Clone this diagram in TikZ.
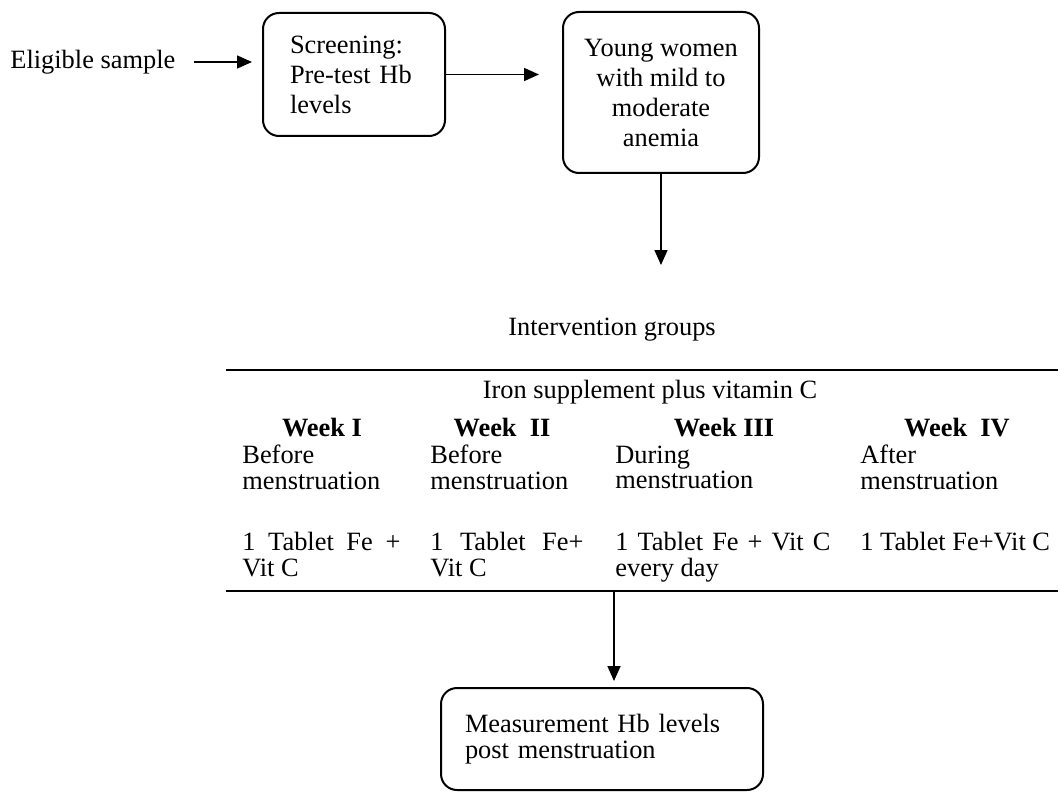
\documentclass[tikz,border=0pt]{standalone}
\usepackage{fontspec}
\setmainfont{Liberation Serif}
\usetikzlibrary{arrows.meta,positioning}

\newcommand{\spreadline}[2]{\makebox[#1][s]{#2}}
\newcommand{\tightlines}{\lineskiplimit=-20pt\relax}

\begin{document}
\begin{tikzpicture}[
x=0.5pt, y=-0.5pt,
every node/.style={font=\fontsize{13.2pt}{15pt}\selectfont\tightlines, inner sep=0pt},
flowbox/.style={draw, line width=1pt, rounded corners=8pt},
cell/.style={anchor=north west, align=left, font=\fontsize{13.2pt}{12.75pt}\selectfont\tightlines},
weekhead/.style={font=\fontsize{13.2pt}{15pt}\selectfont\bfseries},
arr/.style={-{Triangle[length=7.5pt,width=6.5pt]}, line width=0.8pt},
rule/.style={line width=1pt}
]
\useasboundingbox (0,0) rectangle (1061,792);

% top row
\node[anchor=west] (elig) at (10,62) {Eligible sample};
\node[flowbox, minimum width=91pt, minimum height=61.5pt, text width=64pt,
      inner xsep=13.5pt, align=left] (screen) at (354,74.5) {Screening:\\Pre-test Hb\\levels};
\node[flowbox, minimum width=98pt, minimum height=80.5pt, align=center]
      (anemia) at (661,92.5) {Young women\\with mild to\\moderate\\anemia};
\coordinate (split) at (661,265);
\node (groups) at (612,330) {Intervention groups};

% table
\coordinate (tl) at (226,370);
\coordinate (tr) at (1058,370);
\coordinate (bl) at (226,591);
\coordinate (br) at (1058,591);
\draw[rule] (tl) -- (tr);
\draw[rule] (bl) -- (br);
\node (iron) at (650,392) {Iron supplement plus vitamin C};
\foreach \x/\wk [count=\i] in {322/Week I, 502/Week\ \ II, 724/Week III, 957/Week\ \ IV}
	\node[weekhead] (wk\i) at (\x,428) {\wk};
\foreach \x/\t [count=\i] in {242/Before, 430/Before, 615/During, 860/After}
	\node[cell] (when\i) at (\x,445) {\strut\t\\menstruation};
\node[cell] (dose1) at (242,532) {\strut\spreadline{79pt}{1 Tablet Fe +}\\Vit C};
\node[cell] (dose2) at (430,532) {\strut\spreadline{76.5pt}{1 Tablet Fe+}\\Vit C};
\node[cell] (dose3) at (615,532) {\strut\spreadline{107.5pt}{1 Tablet Fe + Vit C}\\every day};
\node[cell] (dose4) at (860,532) {\strut 1 Tablet Fe+Vit C};

% result
\coordinate (drop) at (614,591);
\node[flowbox, minimum width=161pt, minimum height=51pt, text width=137pt,
      inner xsep=12pt, align=left, font=\fontsize{13.2pt}{13.2pt}\selectfont\tightlines]
      (measure) at (602,739) {Measurement Hb levels\\post menstruation};

\draw[arr] ([xshift=9pt]elig.east) -- ([xshift=-5pt]screen.west |- elig.east);
\draw[arr] (screen.east) -- ([xshift=-11.5pt]anemia.west |- screen.east);
\draw[arr] (anemia.south) -- (split);
\draw[arr] (drop) -- ([yshift=3pt]drop |- measure.north);
\end{tikzpicture}
\end{document}
